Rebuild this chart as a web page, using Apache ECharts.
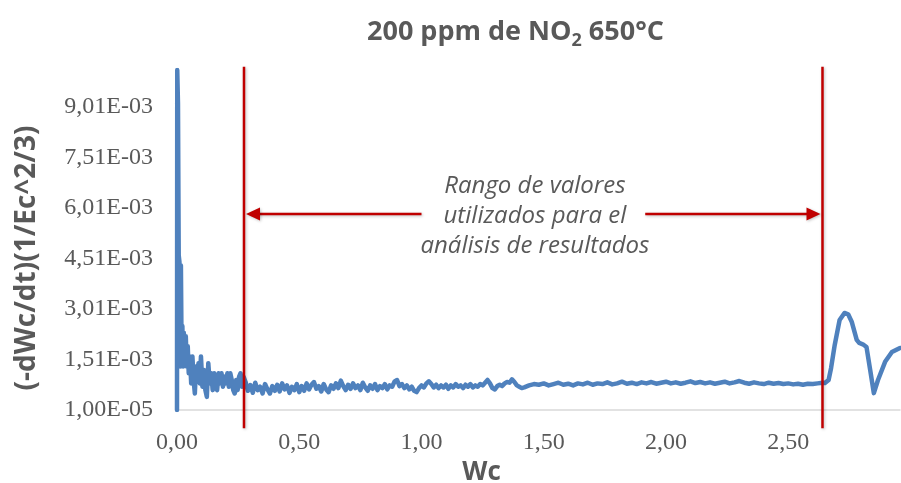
<!DOCTYPE html>
<html>
<head>
<meta charset="utf-8">
<script src="https://cdn.jsdelivr.net/npm/echarts@6/dist/echarts.min.js"></script>
<style>
html,body{margin:0;padding:0;background:#fff;}
#chart{width:901px;height:483px;}
</style>
</head>
<body>
<div id="chart"></div>
<script>
// Wc (x) values
const wcValues = [
  0, 0.001, 0.004, 0.007, 0.010, 0.013, 0.016, 0.019, 0.022, 0.025, 0.028,
  0.032, 0.036, 0.040, 0.044, 0.048, 0.053, 0.058, 0.063, 0.068, 0.073,
  0.078, 0.083, 0.088, 0.093, 0.098, 0.104, 0.110, 0.116, 0.122, 0.128,
  0.134, 0.140, 0.146, 0.152, 0.158, 0.164, 0.170, 0.176, 0.182, 0.188,
  0.194, 0.200, 0.206, 0.212, 0.218, 0.224, 0.230, 0.236, 0.242, 0.248,
  0.254, 0.260, 0.266, 0.272,
  0.28, 0.29, 0.30, 0.31, 0.32, 0.33, 0.34, 0.35, 0.36, 0.37,
  0.38, 0.39, 0.40, 0.41, 0.42, 0.43, 0.44, 0.45, 0.46, 0.47,
  0.48, 0.49, 0.50, 0.51, 0.52, 0.53, 0.54, 0.55, 0.56, 0.57,
  0.58, 0.59, 0.60, 0.61, 0.62, 0.63, 0.64, 0.65, 0.66, 0.67,
  0.68, 0.69, 0.70, 0.71, 0.72, 0.73, 0.74, 0.75, 0.76, 0.77,
  0.78, 0.79, 0.80, 0.81, 0.82, 0.83, 0.84, 0.85, 0.86, 0.87,
  0.88, 0.89, 0.90, 0.91, 0.92, 0.93, 0.94, 0.95, 0.96, 0.97,
  0.98, 0.99, 1.00, 1.01, 1.02, 1.03, 1.04, 1.05, 1.06, 1.07,
  1.08, 1.09, 1.10, 1.11, 1.12, 1.13, 1.14, 1.15, 1.16, 1.17,
  1.18, 1.19, 1.20, 1.21, 1.22, 1.23, 1.24, 1.25, 1.26, 1.27,
  1.28, 1.29, 1.30, 1.31, 1.32, 1.33, 1.34, 1.35, 1.36, 1.37,
  1.38, 1.39, 1.40, 1.41, 1.42, 1.44, 1.46, 1.48,
  1.50, 1.52, 1.54, 1.56, 1.58, 1.60, 1.62, 1.64, 1.66, 1.68,
  1.70, 1.72, 1.74, 1.76, 1.78, 1.80, 1.82, 1.84, 1.86, 1.88,
  1.90, 1.92, 1.94, 1.96, 1.98, 2.00, 2.02, 2.04, 2.06, 2.08,
  2.10, 2.12, 2.14, 2.16, 2.18, 2.20, 2.22, 2.24, 2.26, 2.28,
  2.30, 2.32, 2.34, 2.36, 2.38, 2.40, 2.42, 2.44, 2.46, 2.48,
  2.50, 2.52, 2.54, 2.56, 2.58, 2.60, 2.62, 2.64,
  2.65, 2.665, 2.675, 2.69, 2.71, 2.73, 2.745, 2.76, 2.78, 2.79,
  2.805, 2.82, 2.835, 2.85, 2.867, 2.896, 2.924, 2.957
];
// (-dWc/dt)(1/Ec^2/3) values
const rateValues = [
  0.00001, 0.0101, 0.0091, 0.0046, 0.0044, 0.0013, 0.0043, 0.0015, 0.0025, 0.0013, 0.0023,
  0.0015, 0.0022, 0.0013, 0.0019, 0.0011, 0.0016, 0.0008, 0.0016, 0.0009, 0.0005,
  0.0013, 0.0009, 0.0014, 0.0008, 0.0016, 0.0007, 0.0012, 0.0006, 0.0004, 0.0014,
  0.0008, 0.0011, 0.0006, 0.0011, 0.0007, 0.0006, 0.0011, 0.0008, 0.0011, 0.0007,
  0.0010, 0.0008, 0.0011, 0.0007, 0.0011, 0.0009, 0.0006, 0.0005, 0.0009, 0.0006,
  0.0010, 0.0011, 0.0007, 0.0010,
  0.00085, 0.00058, 0.00075, 0.00052, 0.00082, 0.00060, 0.00070, 0.00050, 0.00078, 0.00062,
  0.00050, 0.00072, 0.00058, 0.00076, 0.00056, 0.00080, 0.00062, 0.00074, 0.00052, 0.00070,
  0.00060, 0.00078, 0.00054, 0.00072, 0.00058, 0.00080, 0.00062, 0.00076, 0.00084, 0.00064,
  0.00072, 0.00056, 0.00078, 0.00062, 0.00054, 0.00074, 0.00064, 0.00080, 0.00066, 0.00088,
  0.00072, 0.00060, 0.00076, 0.00064, 0.00080, 0.00066, 0.00074, 0.00060, 0.00082, 0.00068,
  0.00058, 0.00074, 0.00064, 0.00078, 0.00060, 0.00072, 0.00066, 0.00078, 0.00062, 0.00074,
  0.00070, 0.00086, 0.00090, 0.00072, 0.00078, 0.00066, 0.00074, 0.00062, 0.00070, 0.00058,
  0.00054, 0.00066, 0.00074, 0.00068, 0.00080, 0.00086, 0.00078, 0.00068, 0.00076, 0.00066,
  0.00074, 0.00068, 0.00076, 0.00064, 0.00074, 0.00068, 0.00078, 0.00070, 0.00074, 0.00066,
  0.00076, 0.00070, 0.00078, 0.00068, 0.00074, 0.00070, 0.00078, 0.00074, 0.00082, 0.00090,
  0.00080, 0.00066, 0.00062, 0.00072, 0.00076, 0.00072, 0.00080, 0.00084, 0.00082, 0.00092,
  0.00084, 0.00074, 0.00070, 0.00066, 0.00068, 0.00074, 0.00078, 0.00076,
  0.00080, 0.00074, 0.00078, 0.00082, 0.00076, 0.00079, 0.00074, 0.00080, 0.00077, 0.00082,
  0.00076, 0.00080, 0.00078, 0.00083, 0.00077, 0.00080, 0.00085, 0.00079, 0.00082, 0.00078,
  0.00083, 0.00080, 0.00084, 0.00079, 0.00082, 0.00085, 0.00080, 0.00083, 0.00079, 0.00082,
  0.00086, 0.00081, 0.00084, 0.00080, 0.00083, 0.00079, 0.00082, 0.00085, 0.00080, 0.00083,
  0.00087, 0.00082, 0.00079, 0.00083, 0.00080, 0.00078, 0.00082, 0.00079, 0.00081, 0.00078,
  0.00080, 0.00077, 0.00079, 0.00076, 0.00079, 0.00078, 0.00080, 0.00082,
  0.00081, 0.00090, 0.00125, 0.00194, 0.00268, 0.00289, 0.00285, 0.00262, 0.00209, 0.00200,
  0.00196, 0.00188, 0.00120, 0.00051, 0.00090, 0.00144, 0.00173, 0.00185
];
// Axis settings (tick values)
const xTicks = [0, 0.5, 1.0, 1.5, 2.0, 2.5];
const xMax = 2.957;
const yTicks = [0.00001, 0.00151, 0.00301, 0.00451, 0.00601, 0.00751, 0.00901];
const yMax = 0.0101;
// Annotation: range used for analysis (Wc bounds) and arrow level
const rangeBounds = [0.274, 2.64];
const arrowLevel = [0.00583];
const textCenter = [1.464, 0.00577];
const arrowGap = [1.0, 1.915];
const lineExtent = [-0.00053, 0.0102];
const annotationLines = ['Rango de valores', 'utilizados para el', 'análisis de resultados'];

const chart = echarts.init(document.getElementById('chart'), null, {renderer: 'canvas'});
const gray = '#595959';
const red = '#C00000';
const serif = '"Liberation Serif"';

function fmtX(v) { return v.toFixed(2).replace('.', ','); }
function fmtY(v) {
  const parts = v.toExponential(2).split('e');
  let exp = parseInt(parts[1], 10);
  const sign = exp < 0 ? '-' : '+';
  exp = Math.abs(exp);
  return parts[0].replace('.', ',') + 'E' + sign + (exp < 10 ? '0' + exp : exp);
}

const seriesData = wcValues.map((x, i) => [x, rateValues[i]]);

chart.setOption({
  animation: false,
  backgroundColor: '#fff',
  title: {
    text: '{m|200 ppm de NO}{s|2}{m| 650°C}',
    left: 362,
    top: 9,
    textStyle: {
      rich: {
        m: {fontFamily: '"Open Sans"', fontWeight: 'bold', fontSize: 27, color: gray, lineHeight: 36},
        s: {fontFamily: '"Open Sans"', fontWeight: 'bold', fontSize: 18, color: gray, lineHeight: 21, verticalAlign: 'bottom'}
      }
    }
  },
  grid: {left: 177, right: 1, top: 70, bottom: 73, containLabel: false, outerBoundsMode: 'none'},
  xAxis: {
    type: 'value',
    min: xTicks[0],
    max: xMax,
    interval: xTicks[1] - xTicks[0],
    name: 'Wc',
    nameLocation: 'middle',
    nameGap: 47,
    nameTextStyle: {fontFamily: '"Open Sans"', fontWeight: 'bold', fontSize: 26, color: gray, padding: [0, 114, 0, 0]},
    axisLine: {show: true, lineStyle: {color: '#D9D9D9', width: 1.5}},
    axisTick: {show: false},
    splitLine: {show: false},
    axisLabel: {
      showMaxLabel: false,
      margin: 21,
      fontFamily: serif, fontSize: 24, color: gray,
      formatter: fmtX
    }
  },
  yAxis: {
    type: 'value',
    min: yTicks[0],
    max: yMax,
    interval: yTicks[1] - yTicks[0],
    name: '(-dWc/dt)(1/Ec^2/3)',
    nameLocation: 'middle',
    nameRotate: 90,
    nameGap: 136,
    nameTextStyle: {fontFamily: '"Open Sans"', fontWeight: 'bold', fontSize: 28, color: gray, padding: [0, 36, 0, 0]},
    axisLine: {show: false},
    axisTick: {show: false},
    splitLine: {show: false},
    axisLabel: {
      showMaxLabel: false,
      margin: 24,
      fontFamily: serif, fontSize: 24, color: gray,
      formatter: fmtY
    }
  },
  series: [{
    type: 'line',
    data: seriesData,
    showSymbol: false,
    symbol: 'none',
    clip: true,
    lineStyle: {color: '#4F81BD', width: 4.5, join: 'round', cap: 'round'}
  }]
});

function P(x, y) { return chart.convertToPixel({gridIndex: 0}, [x, y]); }

const elements = [];
const shadow = {shadowBlur: 3, shadowColor: 'rgba(0,0,0,0.25)', shadowOffsetX: 1, shadowOffsetY: 1};
rangeBounds.forEach(b => {
  const a = P(b, lineExtent[0]);
  const c = P(b, lineExtent[1]);
  elements.push({
    type: 'line', z: 100,
    shape: {x1: a[0], y1: a[1], x2: c[0], y2: c[1]},
    style: Object.assign({stroke: red, lineWidth: 2.5}, shadow)
  });
});
const L0 = P(rangeBounds[0], arrowLevel[0]);
const L1 = P(arrowGap[0], arrowLevel[0]);
const R0 = P(arrowGap[1], arrowLevel[0]);
const R1 = P(rangeBounds[1], arrowLevel[0]);
const headLen = 14, headHalf = 6.5;
elements.push({type: 'line', z: 100, shape: {x1: L0[0] + headLen - 2, y1: L0[1], x2: L1[0], y2: L1[1]}, style: Object.assign({stroke: red, lineWidth: 2.5}, shadow)});
elements.push({type: 'line', z: 100, shape: {x1: R0[0], y1: R0[1], x2: R1[0] - headLen + 2, y2: R1[1]}, style: Object.assign({stroke: red, lineWidth: 2.5}, shadow)});
elements.push({type: 'polygon', z: 100, shape: {points: [[L0[0] + 2, L0[1]], [L0[0] + 2 + headLen, L0[1] - headHalf], [L0[0] + 2 + headLen, L0[1] + headHalf]]}, style: Object.assign({fill: red}, shadow)});
elements.push({type: 'polygon', z: 100, shape: {points: [[R1[0] - 2, R1[1]], [R1[0] - 2 - headLen, R1[1] - headHalf], [R1[0] - 2 - headLen, R1[1] + headHalf]]}, style: Object.assign({fill: red}, shadow)});
const T = P(textCenter[0], textCenter[1]);
elements.push({
  type: 'text', z: 100,
  x: T[0], y: T[1],
  style: {
    text: annotationLines.join('\n'),
    align: 'center', verticalAlign: 'middle',
    font: 'italic 24px "Open Sans"',
    lineHeight: 30,
    fill: gray
  }
});
chart.setOption({graphic: {elements: elements}});
</script>
</body>
</html>
